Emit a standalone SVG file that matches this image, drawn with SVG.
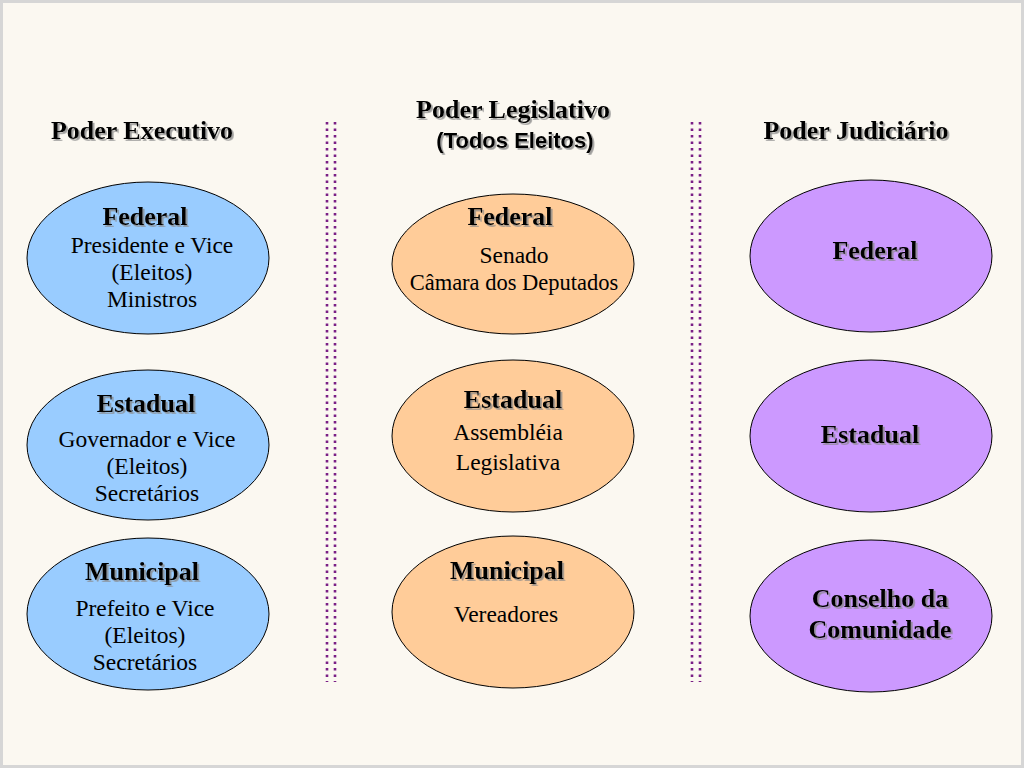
<svg xmlns="http://www.w3.org/2000/svg" width="1024" height="768" viewBox="0 0 1024 768">
<defs>
<style>
.bg{fill:#FBF8F1;stroke:#D6D6D6;stroke-width:3}
.ex{fill:#99CCFF;stroke:#000;stroke-width:1}
.lg{fill:#FFCC99;stroke:#000;stroke-width:1}
.jd{fill:#CC99FF;stroke:#000;stroke-width:1}
.h{font-family:"Liberation Serif",serif;font-weight:bold;font-size:26px;fill:#000;text-anchor:middle;filter:url(#sh)}
.t{font-family:"Liberation Serif",serif;font-size:23.5px;fill:#000;text-anchor:middle}
.a{font-family:"Liberation Sans",sans-serif;font-weight:bold;font-size:22px;fill:#000;text-anchor:middle;filter:url(#sh)}
.dot{stroke:#7A1F86;stroke-width:2.6;stroke-dasharray:2.6 3.9;fill:none}
</style>
<filter id="sh" x="-10%" y="-20%" width="130%" height="160%">
<feDropShadow dx="1.8" dy="1.8" stdDeviation="0.7" flood-color="#888" flood-opacity="0.8"/>
</filter>
</defs>
<rect class="bg" x="1.5" y="1.5" width="1021" height="765"/>
<g id="titles">
<text class="h" x="142" y="139">Poder Executivo</text>
<text class="h" x="513" y="118">Poder Legislativo</text>
<text class="a" x="515" y="148">(Todos Eleitos)</text>
<text class="h" x="856" y="139">Poder Judiciário</text>
</g>
<g id="connectors">
<line class="dot" x1="327" y1="122" x2="327" y2="682"/>
<line class="dot" x1="335" y1="122" x2="335" y2="682"/>
<line class="dot" x1="692" y1="122" x2="692" y2="682"/>
<line class="dot" x1="700" y1="122" x2="700" y2="682"/>
</g>
<g id="exec-federal">
<ellipse class="ex" cx="148" cy="258" rx="121" ry="76"/>
<text class="h" x="145" y="225">Federal</text>
<text class="t" x="152" y="253">Presidente e Vice</text>
<text class="t" x="152" y="280">(Eleitos)</text>
<text class="t" x="152" y="307">Ministros</text>
</g>
<g id="exec-estadual">
<ellipse class="ex" cx="148" cy="445" rx="121" ry="75"/>
<text class="h" x="146" y="412">Estadual</text>
<text class="t" x="147" y="447">Governador e Vice</text>
<text class="t" x="147" y="474">(Eleitos)</text>
<text class="t" x="147" y="501">Secretários</text>
</g>
<g id="exec-municipal">
<ellipse class="ex" cx="148" cy="614" rx="121" ry="76"/>
<text class="h" x="142" y="580">Municipal</text>
<text class="t" x="145" y="616">Prefeito e Vice</text>
<text class="t" x="145" y="643">(Eleitos)</text>
<text class="t" x="145" y="670">Secretários</text>
</g>
<g id="leg-federal">
<ellipse class="lg" cx="513" cy="264" rx="121" ry="70"/>
<text class="h" x="510" y="225">Federal</text>
<text class="t" x="514" y="263">Senado</text>
<text class="t" x="514" y="290" style="font-size:22.5px">Câmara dos Deputados</text>
</g>
<g id="leg-estadual">
<ellipse class="lg" cx="513" cy="436" rx="121" ry="76"/>
<text class="h" x="513" y="408">Estadual</text>
<text class="t" x="508" y="440">Assembléia</text>
<text class="t" x="508" y="470">Legislativa</text>
</g>
<g id="leg-municipal">
<ellipse class="lg" cx="513" cy="612" rx="121" ry="76"/>
<text class="h" x="507" y="579">Municipal</text>
<text class="t" x="506" y="622">Vereadores</text>
</g>
<g id="jud-federal">
<ellipse class="jd" cx="871" cy="256" rx="121" ry="76"/>
<text class="h" x="875" y="259">Federal</text>
</g>
<g id="jud-estadual">
<ellipse class="jd" cx="871" cy="436" rx="121" ry="76"/>
<text class="h" x="870" y="443">Estadual</text>
</g>
<g id="jud-conselho">
<ellipse class="jd" cx="871" cy="616" rx="121" ry="76"/>
<text class="h" x="880" y="607">Conselho da</text>
<text class="h" x="880" y="638">Comunidade</text>
</g>
</svg>
